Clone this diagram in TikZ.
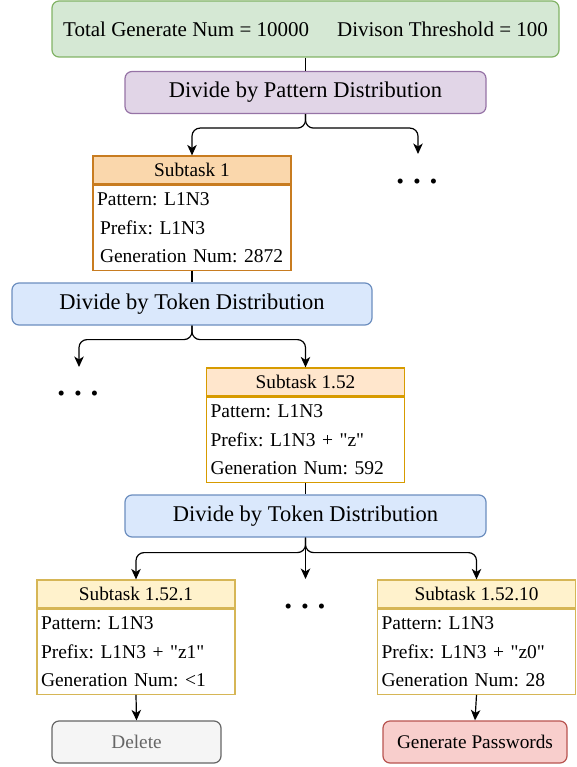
\documentclass[tikz,border=0pt]{standalone}
\usepackage{fontspec}
\setmainfont{Liberation Serif}[Ligatures=TeXOff]
\usetikzlibrary{arrows.meta}

\definecolor{totalfill}{HTML}{D5E8D4}
\definecolor{totaldraw}{HTML}{82B366}
\definecolor{patfill}{HTML}{E1D5E7}
\definecolor{patdraw}{HTML}{9673A6}
\definecolor{tokfill}{HTML}{DAE8FC}
\definecolor{tokdraw}{HTML}{6C8EBF}
\definecolor{onefill}{HTML}{FAD7AC}
\definecolor{onedraw}{HTML}{C87C20}
\definecolor{midfill}{HTML}{FFE6CC}
\definecolor{middraw}{HTML}{D79B00}
\definecolor{leaffill}{HTML}{FFF2CC}
\definecolor{leafdraw}{HTML}{D6B656}
\definecolor{delfill}{HTML}{F5F5F5}
\definecolor{deldraw}{HTML}{666666}
\definecolor{genfill}{HTML}{F8CECC}
\definecolor{gendraw}{HTML}{B85450}

\tikzset{
  toptext/.style={font=\fontsize{21}{24}\selectfont},
  bigtext/.style={font=\fontsize{22.5}{25}\selectfont},
  smalltext/.style={font=\fontsize{19.3}{22}\selectfont},
  roundbox/.style={draw, line width=1.2pt, rounded corners=7pt, inner sep=0pt},
  totalbox/.style={roundbox, fill=totalfill, draw=totaldraw, toptext},
  patbox/.style={roundbox, fill=patfill, draw=patdraw, bigtext},
  tokbox/.style={roundbox, fill=tokfill, draw=tokdraw, bigtext},
  endbox/.style={roundbox, smalltext, minimum height=42pt},
  head/.style={draw, line width=1.2pt, smalltext, minimum width=198pt, minimum height=28pt, inner sep=0pt},
  body/.style={draw, line width=1.2pt, fill=white, anchor=north,
    font=\fontsize{19.5}{28.5}\selectfont, align=left,
    text width=190pt, inner xsep=4pt, inner ysep=0pt,
    minimum width=198pt, minimum height=85pt},
  link/.style={line width=1.2pt, black},
  arrow/.style={link, -{Stealth[length=10.5pt, width=9.5pt, inset=3pt]}, rounded corners=8pt},
  dotsrow/.style={font=\fontsize{21}{21}\selectfont, inner sep=0pt}
}

\newcommand{\threedots}{\textbullet\hspace{9.3pt}\textbullet\hspace{9.3pt}\textbullet}

\begin{document}
\frenchspacing
\begin{tikzpicture}[x=1pt, y=-1pt]
\useasboundingbox (0,0) rectangle (577,767);

% top row
\node[totalbox, minimum width=507pt, minimum height=56pt] (total) at (305.5,29)
  {Total Generate Num = 10000\hspace{28pt}Divison Threshold = 100};
\node[patbox, minimum width=361pt, minimum height=42pt] (pattern) at (305.5,92.5)
  {Divide by Pattern Distribution};
\draw[link] (total.south) -- (pattern.north);

% subtask 1
\node[head, fill=onefill, draw=onedraw] (sub1h) at (192,170) {Subtask 1};
\node[body, draw=onedraw, inner xsep=1.5pt] (sub1) at (sub1h.south)
  {Pattern: L1N3\\\hspace*{3pt}Prefix: L1N3\\\hspace*{3pt}Generation Num: 2872};
\node[dotsrow] (dotsA) at (417,184) {\threedots};
\coordinate (toA) at (418,154);
\draw[arrow] (pattern.south) -- ++(0,14) -| (sub1h.north);
\draw[arrow] (pattern.south) -- ++(0,14) -| (toA);

% first token split
\node[tokbox, minimum width=360pt, minimum height=42pt] (tok1) at (192,304)
  {Divide by Token Distribution};
\draw[link] (sub1.south) -- (tok1.north);

\node[head, fill=midfill, draw=middraw] (sub152h) at (305.5,382) {Subtask 1.52};
\node[body, draw=middraw] (sub152) at (sub152h.south)
  {Pattern: L1N3\\Prefix: L1N3 + "z"\\Generation Num: 592};
\node[dotsrow] (dotsB) at (78,396) {\threedots};
\coordinate (toB) at (79,367);
\draw[arrow] (tok1.south) -- ++(0,14) -| (toB);
\draw[arrow] (tok1.south) -- ++(0,14) -| (sub152h.north);

% second token split
\node[tokbox, minimum width=361pt, minimum height=42pt] (tok2) at (305.5,516)
  {Divide by Token Distribution};
\draw[link] (sub152.south) -- (tok2.north);

\node[head, fill=leaffill, draw=leafdraw] (leafAh) at (136,594) {Subtask 1.52.1};
\node[body, draw=leafdraw] (leafA) at (leafAh.south)
  {Pattern: L1N3\\Prefix: L1N3 + "z1"\\Generation Num: <1};
\node[head, fill=leaffill, draw=leafdraw] (leafBh) at (476.5,594) {Subtask 1.52.10};
\node[body, draw=leafdraw] (leafB) at (leafBh.south)
  {Pattern: L1N3\\Prefix: L1N3 + "z0"\\Generation Num: 28};
\node[dotsrow] (dotsC) at (305,609) {\threedots};
\coordinate (toC) at (305.5,579);
\draw[arrow] (tok2.south) -- ++(0,15) -| (leafAh.north);
\draw[arrow] (tok2.south) -- ++(0,15) -| (leafBh.north);
\draw[arrow] (tok2.south) -- (toC);

% outcomes
\node[endbox, fill=delfill, draw=deldraw, text=deldraw, minimum width=169pt] (delete) at (136.5,742) {Delete};
\node[endbox, fill=genfill, draw=gendraw, minimum width=184pt] (generate) at (475,742) {Generate Passwords};
\draw[arrow] (leafA.south) -- (delete.north);
\draw[arrow] (leafB.south) -- (generate.north);
\end{tikzpicture}
\end{document}
